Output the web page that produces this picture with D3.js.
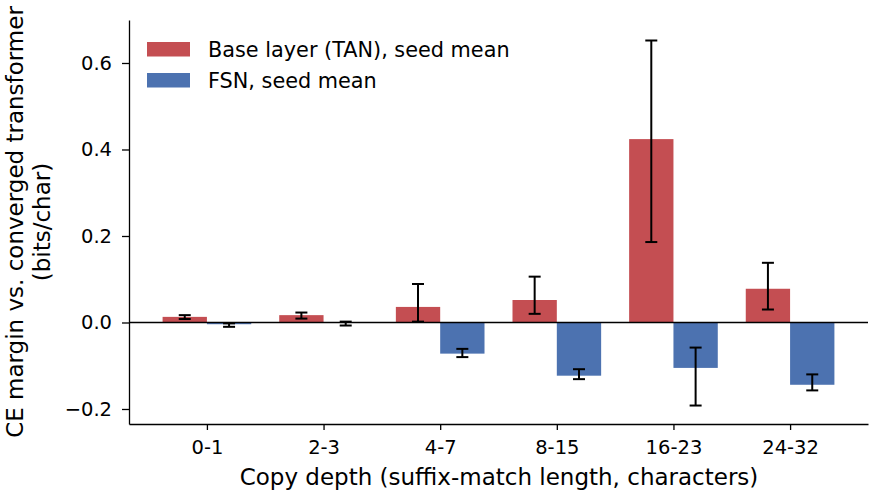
<!DOCTYPE html>
<html>
<head>
<meta charset="utf-8">
<script src="https://cdn.jsdelivr.net/npm/d3@7"></script>
<style>
  body { margin: 0; background: #fff; }
  svg text { font-family: "DejaVu Sans", sans-serif; fill: #000; }
</style>
</head>
<body>
<svg id="chart" width="875" height="496"></svg>
<script>
// data
let categories = ["0-1", "2-3", "4-7", "8-15", "16-23", "24-32"];
let base_mean = [0.013, 0.017, 0.036, 0.052, 0.424, 0.078];
let base_lo   = [0.008, 0.009, 0.002, 0.020, 0.186, 0.030];
let base_hi   = [0.017, 0.023, 0.089, 0.106, 0.652, 0.138];
let fsn_mean  = [-0.004, -0.001, -0.072, -0.123, -0.105, -0.144];
let fsn_lo    = [-0.010, -0.007, -0.080, -0.131, -0.192, -0.157];
let fsn_hi    = [-0.002, 0.002, -0.061, -0.108, -0.058, -0.120];
let y_ticks = [-0.2, 0.0, 0.2, 0.4, 0.6];

let series = [
    {name: "Base layer (TAN), seed mean", color: "#C44E52", mean: base_mean, lo: base_lo, hi: base_hi, off: -1},
    {name: "FSN, seed mean", color: "#4C72B0", mean: fsn_mean, lo: fsn_lo, hi: fsn_hi, off: 0}
];

let svg = d3.select("#chart");
let m_left = 129, m_right = 868, m_top = 20, m_bottom = 424;
let barW = 0.38;

let x = d3.scaleLinear().domain([-0.668, 5.668]).range([m_left, m_right]);
let y = d3.scaleLinear().domain([-0.2347, 0.6994]).range([m_bottom, m_top]);

// bars
for (let s of series) {
    svg.append("g").selectAll("rect")
        .data(s.mean)
        .enter().append("rect")
        .attr("x", (d, i) => x(i + s.off * barW))
        .attr("width", x(barW) - x(0))
        .attr("y", d => Math.min(y(d), y(0)))
        .attr("height", d => Math.abs(y(d) - y(0)))
        .attr("fill", s.color);
}

// zero line
svg.append("line")
    .attr("x1", m_left).attr("x2", m_right)
    .attr("y1", y(0)).attr("y2", y(0))
    .attr("stroke", "#000").attr("stroke-width", 1.3);

// error bars
for (let s of series) {
    let g = svg.append("g").attr("stroke", "#000").attr("stroke-width", 2);
    s.mean.forEach((d, i) => {
        let cx = x(i + s.off * barW + barW / 2);
        g.append("line").attr("x1", cx).attr("x2", cx)
            .attr("y1", y(s.lo[i])).attr("y2", y(s.hi[i]));
        g.append("line").attr("x1", cx - 6).attr("x2", cx + 6)
            .attr("y1", y(s.lo[i])).attr("y2", y(s.lo[i]));
        g.append("line").attr("x1", cx - 6).attr("x2", cx + 6)
            .attr("y1", y(s.hi[i])).attr("y2", y(s.hi[i]));
    });
}

// axes
let xAxis = d3.axisBottom(x)
    .tickValues(d3.range(categories.length))
    .tickFormat(i => categories[i])
    .tickSize(6).tickSizeOuter(0).tickPadding(10);
let yAxis = d3.axisLeft(y)
    .tickValues(y_ticks)
    .tickFormat(d => d3.format(".1f")(d).replace("-", "\u2212"))
    .tickSize(7).tickSizeOuter(0).tickPadding(10);

let gx = svg.append("g").attr("transform", `translate(0,${m_bottom})`).call(xAxis);
let gy = svg.append("g").attr("transform", `translate(${m_left},0)`).call(yAxis);
for (let g of [gx, gy]) {
    g.selectAll("path, line").attr("stroke", "#000").attr("stroke-width", 1.3);
    g.selectAll("text").attr("font-size", 19.5).attr("font-family", "DejaVu Sans");
}

// axis titles
svg.append("text")
    .attr("x", (m_left + m_right) / 2 + 0.5).attr("y", 485)
    .attr("text-anchor", "middle").attr("font-size", 23)
    .text("Copy depth (suffix-match length, characters)");

let yl = svg.append("text")
    .attr("transform", `translate(23,${(m_top + m_bottom) / 2}) rotate(-90)`)
    .attr("text-anchor", "middle").attr("font-size", 23);
yl.append("tspan").attr("x", 0).attr("dy", 0).text("CE margin vs. converged transformer");
yl.append("tspan").attr("x", 0).attr("dy", 27).text("(bits/char)");

// legend
let lg = svg.append("g").selectAll("g")
    .data(series)
    .enter().append("g")
    .attr("transform", (d, i) => `translate(147,${42 + i * 31})`);
lg.append("rect").attr("width", 43).attr("height", 14.5).attr("fill", d => d.color);
lg.append("text").attr("x", 61).attr("y", 15).attr("font-size", 20.8).text(d => d.name);
</script>
</body>
</html>
